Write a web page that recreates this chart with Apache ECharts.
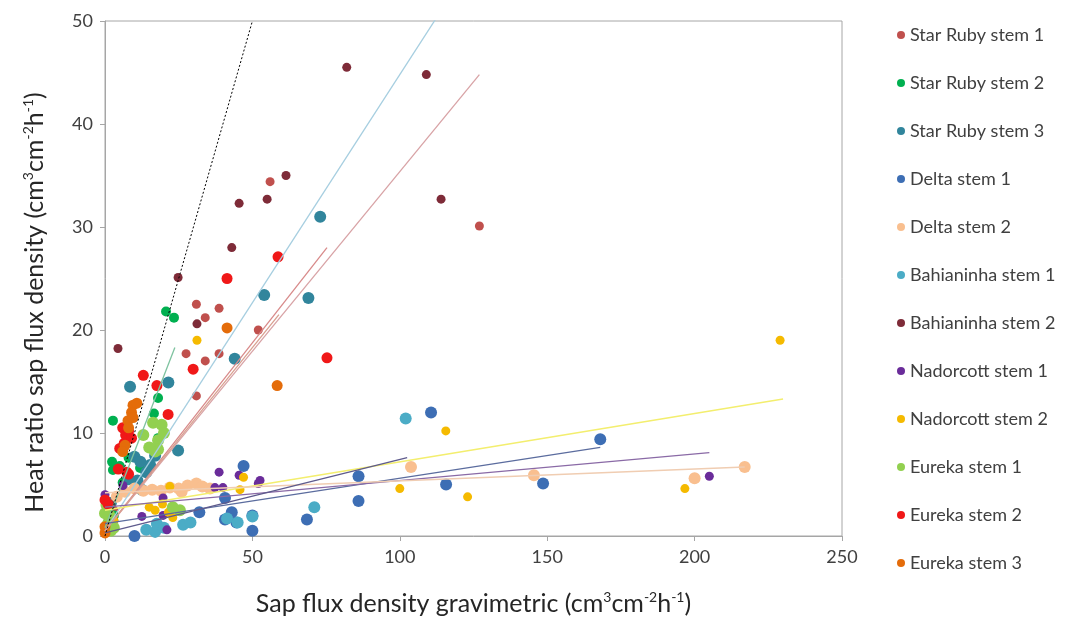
<!DOCTYPE html>
<html>
<head>
<meta charset="utf-8">
<script src="https://cdn.jsdelivr.net/npm/echarts@6/dist/echarts.min.js"></script>
<style>html,body{margin:0;padding:0;background:#fff;}#c{width:1072px;height:623px;}</style>
</head>
<body>
<div id="c"></div>
<script>
// ---- data ----
const seriesNames = ['Star Ruby stem 1','Star Ruby stem 2','Star Ruby stem 3','Delta stem 1','Delta stem 2','Bahianinha stem 1','Bahianinha stem 2','Nadorcott stem 1','Nadorcott stem 2','Eureka stem 1','Eureka stem 2','Eureka stem 3'];
const xTicks = [0, 50, 100, 150, 200, 250];
const yTicks = [0, 10, 20, 30, 40, 50];

const starRuby1 = [[56,34.4],[127,30.1],[31,22.5],[38.7,22.1],[34,21.2],[27.5,17.7],[34,17],[38.7,17.7],[52,20],[31,13.6],[3,2.5],[1,1.5]];
const starRuby2 = [[20.7,21.8],[23.4,21.2],[18,13.4],[16.6,11.9],[2.7,11.2],[2.4,7.2],[2.7,6.4],[11.9,6.6],[5,6.8],[8,7.6],[18,9.5],[1,3],[0.5,1],[3,2],[13,9.8],[6,5.2]];
const starRuby3 = [[73,31],[54,23.4],[69,23.1],[44,17.2],[21.5,14.9],[8.5,14.5],[24.8,8.3],[10,7.7],[12,7.2],[15.3,6.9],[14,6.2],[11,5.4],[12.5,4.5],[17,7.8],[8,5.5],[2,3.2]];
const delta1 = [[168,9.4],[110.6,12],[148.6,5.1],[115.7,5],[86,5.8],[86,3.4],[68.5,1.6],[47,6.8],[40.7,3.7],[32,2.3],[43,2.3],[44.6,1.3],[50,0.5],[10,0],[40.7,1.6],[50,2]];
const delta2 = [[103.8,6.7],[145.5,5.9],[200,5.6],[217,6.7],[6.8,4.3],[10,4.6],[13,4.4],[16,4.5],[19,4.4],[22,4.7],[25,4.6],[28,4.9],[31,5.1],[33,4.8],[35.6,4.6],[4,3.8],[26,4.3]];
const bahia1 = [[102,11.4],[71,2.8],[50,1.9],[17,0.4],[17.6,1.2],[20,0.8],[26.5,1.1],[29,1.3],[41.4,1.7],[45,1.3],[14,0.6],[2,1]];
const bahia2 = [[82,45.5],[109,44.8],[114,32.7],[61.4,35],[55,32.7],[45.5,32.3],[43,28],[24.8,25.1],[31.2,20.6],[4.4,18.2],[2,3],[1,2.5],[3,1.5]];
const nador1 = [[205,5.8],[38.7,6.2],[45.5,5.9],[52.6,5.4],[52,5.1],[37.3,4.7],[40,4.7],[19.7,3.7],[12.5,1.9],[21,0.6],[6.1,4.9],[0,4],[19.7,2],[0.5,2.8]];
const nador2 = [[229,19],[115.6,10.2],[100,4.6],[123,3.8],[196.7,4.6],[31.2,19],[22,4.8],[15,2.8],[19.5,3.1],[21.5,2.3],[23,1.8],[47,5.7],[45.8,4.5],[17,2.5],[3,1.5],[1,2.2]];
const eureka1 = [[16.3,11],[19.2,10.8],[18,9.3],[17,8.2],[18,8.4],[13,9.8],[25.4,2.5],[23,2.8],[0,2.2],[1,1.2],[2,0.5],[0.5,3],[1.5,2],[3,0.8],[20,10],[15,8.6]];
const eureka2 = [[41.4,25],[58.7,27.1],[29.9,16.2],[13,15.6],[17.6,14.6],[75.3,17.3],[21.4,11.8],[6,10.5],[7,9.8],[8,10.2],[6.5,9],[9,9.5],[7.4,6.2],[4.5,6.5],[8,6],[0,3.5],[1,3.1],[5,8.5]];
const eureka3 = [[41.4,20.2],[58.4,14.6],[9.5,12.7],[10.8,12.9],[9,12],[7.8,11.2],[6.8,8.8],[6,8.2],[0,0.3],[0,0.9],[8,10.5],[9.5,11.5]];

// trend lines (start, end)
const trendSR1 = [[0,0.5],[127,44.8]];
const trendSR2 = [[0,0.8],[23.7,18.3]];
const trendBS2 = [[0,0.5],[114,51]];
const trendE2 = [[0,0.5],[75.3,28]];
const trendE3 = [[0,0.5],[59,21.5]];
const trendD1 = [[0,1.2],[168,8.6]];
const trendD2 = [[0,4.2],[217,6.7]];
const trendN1 = [[0,2.8],[205,8.1]];
const trendN2 = [[0,2.5],[230,13.3]];
const trendB1 = [[0,0.3],[102.5,7.6]];
const oneToOne = [[0,0],[50,50]];

const pointData = [starRuby1, starRuby2, starRuby3, delta1, delta2, bahia1, bahia2, nador1, nador2, eureka1, eureka2, eureka3];
const colors = ['#C0504D','#00B050','#31859C','#3D6EB4','#F9BF8F','#4BACC6','#7E2B38','#6A2C9A','#F5BA00','#92D050','#F01818','#E46C0A'];
const sizes = [9,10,12,12,12,12,9,9,9,12,11,11];

const trends = [
  {d: trendBS2, c: '#A6CEE0'},
  {d: trendSR1, c: '#D8A3A6'},
  {d: trendE2, c: '#D88A8A'},
  {d: trendE3, c: '#D9A090'},
  {d: trendSR2, c: '#7FC3A0'},
  {d: trendN2, c: '#F3EE6E'},
  {d: trendD1, c: '#5B6C9E'},
  {d: trendN1, c: '#8A6AA6'},
  {d: trendD2, c: '#F0CDB2'},
  {d: trendB1, c: '#5E5A8C'}
];

const FONT = 'Lato';
const series = [];
seriesNames.forEach((n, i) => {
  series.push({
    name: n, type: 'scatter', data: pointData[i], symbolSize: sizes[i],
    itemStyle: {color: colors[i], opacity: 1}, z: 2
  });
});
trends.forEach((t, i) => {
  series.push({
    name: 'trend' + i, type: 'line', data: t.d, symbol: 'none', silent: true,
    lineStyle: {color: t.c, width: 1.3}, z: 3
  });
});
series.push({
  name: '1:1', type: 'line', data: oneToOne, symbol: 'none', silent: true,
  lineStyle: {color: '#000', width: 1, type: [2, 2]}, z: 4
});

const nameRich = {
  n: {fontFamily: FONT, fontSize: 25, color: '#262626', lineHeight: 28},
  s: {fontFamily: FONT, fontSize: 14, color: '#262626', lineHeight: 16, verticalAlign: 'top'}
};

const chart = echarts.init(document.getElementById('c'));
chart.setOption({
  animation: false,
  backgroundColor: '#fff',
  grid: {left: 105, right: 230, top: 21, bottom: 87, show: true, borderColor: '#A6A6A6', borderWidth: 1},
  legend: {
    data: seriesNames, orient: 'vertical', left: 892, top: 21,
    icon: 'circle', itemWidth: 8, itemHeight: 8, itemGap: 30,
    textStyle: {fontFamily: FONT, fontSize: 18, color: '#404040'}
  },
  xAxis: {
    type: 'value', min: 0, max: 250, interval: 50,
    axisLine: {show: true, lineStyle: {color: '#A6A6A6'}},
    axisTick: {show: true, inside: false, length: 5, lineStyle: {color: '#A6A6A6'}},
    splitLine: {show: false},
    axisLabel: {fontFamily: FONT, fontSize: 18, color: '#404040', margin: 12,
      formatter: v => xTicks.includes(v) ? String(v) : ''},
    name: '{n|Sap flux density gravimetric (cm}{s|3}{n|cm}{s|-2}{n|h}{s|-1}{n|)}',
    nameLocation: 'middle', nameGap: 54,
    nameTextStyle: {rich: nameRich}
  },
  yAxis: {
    type: 'value', min: 0, max: 50, interval: 10,
    axisLine: {show: true, lineStyle: {color: '#A6A6A6'}},
    axisTick: {show: true, inside: false, length: 5, lineStyle: {color: '#A6A6A6'}},
    splitLine: {show: false},
    axisLabel: {fontFamily: FONT, fontSize: 18, color: '#404040', margin: 12,
      formatter: v => yTicks.includes(v) ? String(v) : ''},
    name: '{n|Heat ratio sap flux density (cm}{s|3}{n|cm}{s|-2}{n|h}{s|-1}{n|)}',
    nameLocation: 'middle', nameGap: 56, nameRotate: 90,
    nameTextStyle: {padding: [0, 48, 0, 0], rich: nameRich}
  },
  series: series
});
</script>
</body>
</html>
